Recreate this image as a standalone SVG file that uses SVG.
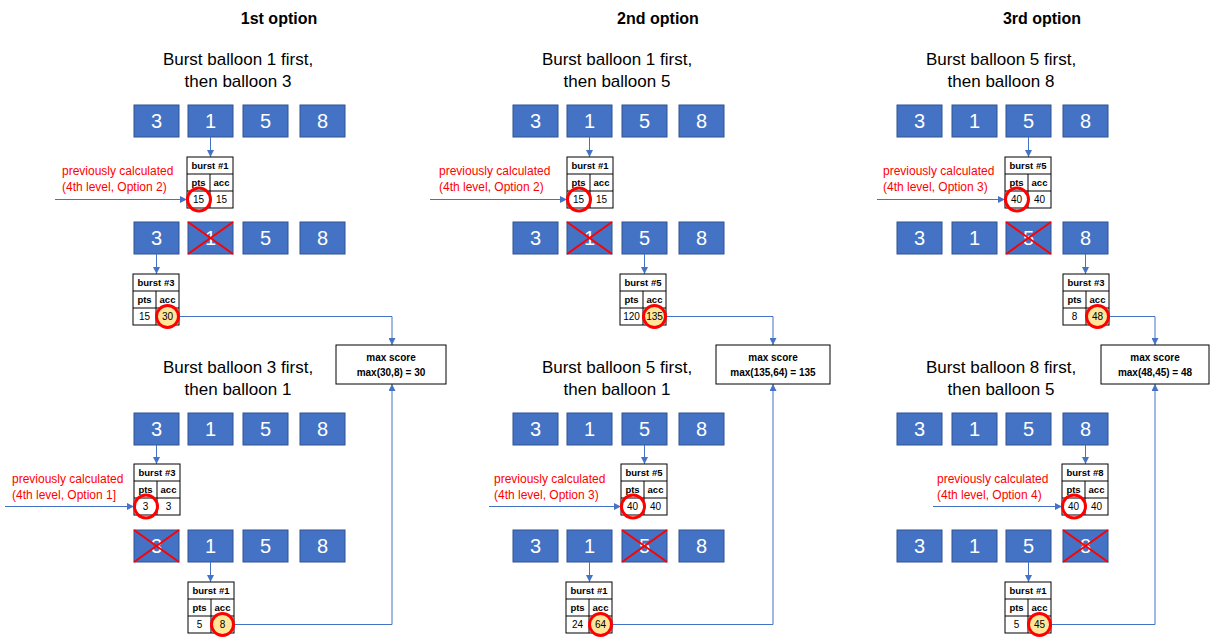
<svg xmlns="http://www.w3.org/2000/svg" width="1214" height="640" viewBox="0 0 1214 640">
<defs>
<marker id="arr" viewBox="0 0 10 10" refX="10" refY="5" markerWidth="7" markerHeight="7" markerUnits="userSpaceOnUse" orient="auto">
<path d="M0,0 L10,5 L0,10 z" fill="#4472C4"/>
</marker>
<style>
.title{font-family:"Liberation Sans",Arial,sans-serif;font-size:16px;font-weight:bold;fill:#000;text-anchor:middle}
.sub{font-family:"Liberation Sans",Arial,sans-serif;font-size:17px;fill:#000;text-anchor:middle}
.bal rect{fill:#4472C4;stroke:#2F528F;stroke-width:1}
.bal text{font-family:"Liberation Sans",Arial,sans-serif;font-size:20px;fill:#fff;text-anchor:middle}
.x{stroke:#FF0000;stroke-width:2}
.tb rect{fill:#fff;stroke:#000;stroke-width:1}
.tb line{stroke:#000;stroke-width:1}
.th{font-family:"Liberation Sans",Arial,sans-serif;font-size:9.5px;font-weight:bold;fill:#000;text-anchor:middle}
.tv{font-family:"Liberation Sans",Arial,sans-serif;font-size:10px;fill:#000;text-anchor:middle}
.rc{fill:none;stroke:#FF0000;stroke-width:3}
.yc{fill:#FFE699;stroke:#FF0000;stroke-width:3}
.red{font-family:"Liberation Sans",Arial,sans-serif;font-size:12px;fill:#FF0000}
.conn{fill:none;stroke:#4472C4;stroke-width:1}
.mx rect{fill:#fff;stroke:#000;stroke-width:1}
.mx text{font-family:"Liberation Sans",Arial,sans-serif;font-size:10px;font-weight:bold;fill:#000;text-anchor:middle}
</style>
</defs>
<rect width="1214" height="640" fill="#fff"/>

<!-- titles -->
<g id="titles">
<text class="title" x="279" y="24">1st option</text>
<text class="title" x="658" y="24">2nd option</text>
<text class="title" x="1042" y="24">3rd option</text>
<text class="sub" x="238" y="65">Burst balloon 1 first,</text>
<text class="sub" x="238" y="87">then balloon 3</text>
<text class="sub" x="238" y="373">Burst balloon 3 first,</text>
<text class="sub" x="238" y="395">then balloon 1</text>
<text class="sub" x="617" y="65">Burst balloon 1 first,</text>
<text class="sub" x="617" y="87">then balloon 5</text>
<text class="sub" x="617" y="373">Burst balloon 5 first,</text>
<text class="sub" x="617" y="395">then balloon 1</text>
<text class="sub" x="1001" y="65">Burst balloon 5 first,</text>
<text class="sub" x="1001" y="87">then balloon 8</text>
<text class="sub" x="1001" y="373">Burst balloon 8 first,</text>
<text class="sub" x="1001" y="395">then balloon 5</text>
</g>

<!-- balloon rows -->
<g id="col1-balloons" class="bal">
<rect x="134" y="105" width="45" height="32"/><text x="156.5" y="128">3</text>
<rect x="188" y="105" width="45" height="32"/><text x="210.5" y="128">1</text>
<rect x="243" y="105" width="45" height="32"/><text x="265.5" y="128">5</text>
<rect x="300" y="105" width="45" height="32"/><text x="322.5" y="128">8</text>
<rect x="134" y="222" width="45" height="32"/><text x="156.5" y="245">3</text>
<rect x="188" y="222" width="45" height="32"/><text x="210.5" y="245">1</text>
<rect x="243" y="222" width="45" height="32"/><text x="265.5" y="245">5</text>
<rect x="300" y="222" width="45" height="32"/><text x="322.5" y="245">8</text>
<rect x="134" y="413" width="45" height="32"/><text x="156.5" y="436">3</text>
<rect x="188" y="413" width="45" height="32"/><text x="210.5" y="436">1</text>
<rect x="243" y="413" width="45" height="32"/><text x="265.5" y="436">5</text>
<rect x="300" y="413" width="45" height="32"/><text x="322.5" y="436">8</text>
<rect x="134" y="530" width="45" height="32"/><text x="156.5" y="553">3</text>
<rect x="188" y="530" width="45" height="32"/><text x="210.5" y="553">1</text>
<rect x="243" y="530" width="45" height="32"/><text x="265.5" y="553">5</text>
<rect x="300" y="530" width="45" height="32"/><text x="322.5" y="553">8</text>
</g>
<g id="col2-balloons" class="bal">
<rect x="513" y="105" width="45" height="32"/><text x="535.5" y="128">3</text>
<rect x="567" y="105" width="45" height="32"/><text x="589.5" y="128">1</text>
<rect x="622" y="105" width="45" height="32"/><text x="644.5" y="128">5</text>
<rect x="679" y="105" width="45" height="32"/><text x="701.5" y="128">8</text>
<rect x="513" y="222" width="45" height="32"/><text x="535.5" y="245">3</text>
<rect x="567" y="222" width="45" height="32"/><text x="589.5" y="245">1</text>
<rect x="622" y="222" width="45" height="32"/><text x="644.5" y="245">5</text>
<rect x="679" y="222" width="45" height="32"/><text x="701.5" y="245">8</text>
<rect x="513" y="413" width="45" height="32"/><text x="535.5" y="436">3</text>
<rect x="567" y="413" width="45" height="32"/><text x="589.5" y="436">1</text>
<rect x="622" y="413" width="45" height="32"/><text x="644.5" y="436">5</text>
<rect x="679" y="413" width="45" height="32"/><text x="701.5" y="436">8</text>
<rect x="513" y="530" width="45" height="32"/><text x="535.5" y="553">3</text>
<rect x="567" y="530" width="45" height="32"/><text x="589.5" y="553">1</text>
<rect x="622" y="530" width="45" height="32"/><text x="644.5" y="553">5</text>
<rect x="679" y="530" width="45" height="32"/><text x="701.5" y="553">8</text>
</g>
<g id="col3-balloons" class="bal">
<rect x="897" y="105" width="45" height="32"/><text x="919.5" y="128">3</text>
<rect x="952" y="105" width="45" height="32"/><text x="974.5" y="128">1</text>
<rect x="1006" y="105" width="45" height="32"/><text x="1028.5" y="128">5</text>
<rect x="1063" y="105" width="45" height="32"/><text x="1085.5" y="128">8</text>
<rect x="897" y="222" width="45" height="32"/><text x="919.5" y="245">3</text>
<rect x="952" y="222" width="45" height="32"/><text x="974.5" y="245">1</text>
<rect x="1006" y="222" width="45" height="32"/><text x="1028.5" y="245">5</text>
<rect x="1063" y="222" width="45" height="32"/><text x="1085.5" y="245">8</text>
<rect x="897" y="413" width="45" height="32"/><text x="919.5" y="436">3</text>
<rect x="952" y="413" width="45" height="32"/><text x="974.5" y="436">1</text>
<rect x="1006" y="413" width="45" height="32"/><text x="1028.5" y="436">5</text>
<rect x="1063" y="413" width="45" height="32"/><text x="1085.5" y="436">8</text>
<rect x="897" y="530" width="45" height="32"/><text x="919.5" y="553">3</text>
<rect x="952" y="530" width="45" height="32"/><text x="974.5" y="553">1</text>
<rect x="1006" y="530" width="45" height="32"/><text x="1028.5" y="553">5</text>
<rect x="1063" y="530" width="45" height="32"/><text x="1085.5" y="553">8</text>
</g>

<!-- crosses on burst balloons -->
<g id="crosses" class="x">
<line x1="188" y1="222" x2="233" y2="254"/><line x1="188" y1="254" x2="233" y2="222"/>
<line x1="134" y1="530" x2="179" y2="562"/><line x1="134" y1="562" x2="179" y2="530"/>
<line x1="567" y1="222" x2="612" y2="254"/><line x1="567" y1="254" x2="612" y2="222"/>
<line x1="622" y1="530" x2="667" y2="562"/><line x1="622" y1="562" x2="667" y2="530"/>
<line x1="1006" y1="222" x2="1051" y2="254"/><line x1="1006" y1="254" x2="1051" y2="222"/>
<line x1="1063" y1="530" x2="1108" y2="562"/><line x1="1063" y1="562" x2="1108" y2="530"/>
</g>

<!-- connectors -->
<g id="connectors" class="conn" marker-end="url(#arr)">
<line x1="210.5" y1="137" x2="210.5" y2="157"/>
<line x1="156.5" y1="254" x2="156.5" y2="274"/>
<line x1="156.5" y1="445" x2="156.5" y2="464"/>
<line x1="210.5" y1="562" x2="210.5" y2="582"/>
<line x1="589.5" y1="137" x2="589.5" y2="157"/>
<line x1="644.5" y1="254" x2="644.5" y2="274"/>
<line x1="644.5" y1="445" x2="644.5" y2="464"/>
<line x1="589.5" y1="562" x2="589.5" y2="582"/>
<line x1="1028.5" y1="137" x2="1028.5" y2="157"/>
<line x1="1085.5" y1="254" x2="1085.5" y2="274"/>
<line x1="1085.5" y1="445" x2="1085.5" y2="464"/>
<line x1="1028.5" y1="562" x2="1028.5" y2="582"/>
<line x1="55" y1="199.5" x2="187" y2="199.5"/>
<line x1="5" y1="506.5" x2="134" y2="506.5"/>
<line x1="430" y1="199.5" x2="567" y2="199.5"/>
<line x1="489" y1="506.5" x2="621" y2="506.5"/>
<line x1="877" y1="199.5" x2="1005" y2="199.5"/>
<line x1="933" y1="506.5" x2="1062" y2="506.5"/>
<path d="M179,316.5 H392 V345"/>
<path d="M234,624.5 H392 V384"/>
<path d="M666,316.5 H773 V345"/>
<path d="M612,624.5 H773 V384"/>
<path d="M1109,316.5 H1155 V345"/>
<path d="M1051,624.5 H1155 V384"/>
</g>

<!-- red notes -->
<g id="notes">
<text class="red" x="62" y="175">previously calculated</text>
<text class="red" x="62" y="191">(4th level, Option 2)</text>
<text class="red" x="12" y="483">previously calculated</text>
<text class="red" x="12" y="499">(4th level, Option 1]</text>
<text class="red" x="439" y="175">previously calculated</text>
<text class="red" x="439" y="191">(4th level, Option 2)</text>
<text class="red" x="494" y="483">previously calculated</text>
<text class="red" x="494" y="499">(4th level, Option 3)</text>
<text class="red" x="883" y="175">previously calculated</text>
<text class="red" x="883" y="191">(4th level, Option 3)</text>
<text class="red" x="937" y="483">previously calculated</text>
<text class="red" x="937" y="499">(4th level, Option 4)</text>
</g>

<!-- tables -->
<g id="c1-t1" class="tb" transform="translate(187,157)">
<rect width="46" height="51"/><line x1="0" y1="17" x2="46" y2="17"/><line x1="0" y1="34" x2="46" y2="34"/><line x1="23" y1="17" x2="23" y2="51"/>
<text class="th" x="23" y="12">burst #1</text><text class="th" x="11.5" y="29">pts</text><text class="th" x="34.5" y="29">acc</text>
<text class="tv" x="11.5" y="46">15</text><text class="tv" x="34.5" y="46">15</text>
<circle class="rc" cx="12" cy="42.5" r="11.5"/>
</g>
<g id="c1-t2" class="tb" transform="translate(133,274)">
<rect width="46" height="51"/><line x1="0" y1="17" x2="46" y2="17"/><line x1="0" y1="34" x2="46" y2="34"/><line x1="23" y1="17" x2="23" y2="51"/>
<text class="th" x="23" y="12">burst #3</text><text class="th" x="11.5" y="29">pts</text><text class="th" x="34.5" y="29">acc</text>
<circle class="yc" cx="34.5" cy="42.5" r="11"/>
<text class="tv" x="11.5" y="46">15</text><text class="tv" x="34.5" y="46">30</text>
</g>
<g id="c1-t3" class="tb" transform="translate(134,464)">
<rect width="46" height="51"/><line x1="0" y1="17" x2="46" y2="17"/><line x1="0" y1="34" x2="46" y2="34"/><line x1="23" y1="17" x2="23" y2="51"/>
<text class="th" x="23" y="12">burst #3</text><text class="th" x="11.5" y="29">pts</text><text class="th" x="34.5" y="29">acc</text>
<text class="tv" x="11.5" y="46">3</text><text class="tv" x="34.5" y="46">3</text>
<circle class="rc" cx="12" cy="42.5" r="11.5"/>
</g>
<g id="c1-t4" class="tb" transform="translate(188,582)">
<rect width="46" height="51"/><line x1="0" y1="17" x2="46" y2="17"/><line x1="0" y1="34" x2="46" y2="34"/><line x1="23" y1="17" x2="23" y2="51"/>
<text class="th" x="23" y="12">burst #1</text><text class="th" x="11.5" y="29">pts</text><text class="th" x="34.5" y="29">acc</text>
<circle class="yc" cx="34.5" cy="42.5" r="11"/>
<text class="tv" x="11.5" y="46">5</text><text class="tv" x="34.5" y="46">8</text>
</g>

<g id="c2-t1" class="tb" transform="translate(567,157)">
<rect width="46" height="51"/><line x1="0" y1="17" x2="46" y2="17"/><line x1="0" y1="34" x2="46" y2="34"/><line x1="23" y1="17" x2="23" y2="51"/>
<text class="th" x="23" y="12">burst #1</text><text class="th" x="11.5" y="29">pts</text><text class="th" x="34.5" y="29">acc</text>
<text class="tv" x="11.5" y="46">15</text><text class="tv" x="34.5" y="46">15</text>
<circle class="rc" cx="12" cy="42.5" r="11.5"/>
</g>
<g id="c2-t2" class="tb" transform="translate(620,274)">
<rect width="46" height="51"/><line x1="0" y1="17" x2="46" y2="17"/><line x1="0" y1="34" x2="46" y2="34"/><line x1="23" y1="17" x2="23" y2="51"/>
<text class="th" x="23" y="12">burst #5</text><text class="th" x="11.5" y="29">pts</text><text class="th" x="34.5" y="29">acc</text>
<circle class="yc" cx="34.5" cy="42.5" r="11"/>
<text class="tv" x="11.5" y="46">120</text><text class="tv" x="34.5" y="46">135</text>
</g>
<g id="c2-t3" class="tb" transform="translate(621,464)">
<rect width="46" height="51"/><line x1="0" y1="17" x2="46" y2="17"/><line x1="0" y1="34" x2="46" y2="34"/><line x1="23" y1="17" x2="23" y2="51"/>
<text class="th" x="23" y="12">burst #5</text><text class="th" x="11.5" y="29">pts</text><text class="th" x="34.5" y="29">acc</text>
<text class="tv" x="11.5" y="46">40</text><text class="tv" x="34.5" y="46">40</text>
<circle class="rc" cx="12" cy="42.5" r="11.5"/>
</g>
<g id="c2-t4" class="tb" transform="translate(566,582)">
<rect width="46" height="51"/><line x1="0" y1="17" x2="46" y2="17"/><line x1="0" y1="34" x2="46" y2="34"/><line x1="23" y1="17" x2="23" y2="51"/>
<text class="th" x="23" y="12">burst #1</text><text class="th" x="11.5" y="29">pts</text><text class="th" x="34.5" y="29">acc</text>
<circle class="yc" cx="34.5" cy="42.5" r="11"/>
<text class="tv" x="11.5" y="46">24</text><text class="tv" x="34.5" y="46">64</text>
</g>

<g id="c3-t1" class="tb" transform="translate(1005,157)">
<rect width="46" height="51"/><line x1="0" y1="17" x2="46" y2="17"/><line x1="0" y1="34" x2="46" y2="34"/><line x1="23" y1="17" x2="23" y2="51"/>
<text class="th" x="23" y="12">burst #5</text><text class="th" x="11.5" y="29">pts</text><text class="th" x="34.5" y="29">acc</text>
<text class="tv" x="11.5" y="46">40</text><text class="tv" x="34.5" y="46">40</text>
<circle class="rc" cx="12" cy="42.5" r="11.5"/>
</g>
<g id="c3-t2" class="tb" transform="translate(1063,274)">
<rect width="46" height="51"/><line x1="0" y1="17" x2="46" y2="17"/><line x1="0" y1="34" x2="46" y2="34"/><line x1="23" y1="17" x2="23" y2="51"/>
<text class="th" x="23" y="12">burst #3</text><text class="th" x="11.5" y="29">pts</text><text class="th" x="34.5" y="29">acc</text>
<circle class="yc" cx="34.5" cy="42.5" r="11"/>
<text class="tv" x="11.5" y="46">8</text><text class="tv" x="34.5" y="46">48</text>
</g>
<g id="c3-t3" class="tb" transform="translate(1062,464)">
<rect width="46" height="51"/><line x1="0" y1="17" x2="46" y2="17"/><line x1="0" y1="34" x2="46" y2="34"/><line x1="23" y1="17" x2="23" y2="51"/>
<text class="th" x="23" y="12">burst #8</text><text class="th" x="11.5" y="29">pts</text><text class="th" x="34.5" y="29">acc</text>
<text class="tv" x="11.5" y="46">40</text><text class="tv" x="34.5" y="46">40</text>
<circle class="rc" cx="12" cy="42.5" r="11.5"/>
</g>
<g id="c3-t4" class="tb" transform="translate(1005,582)">
<rect width="46" height="51"/><line x1="0" y1="17" x2="46" y2="17"/><line x1="0" y1="34" x2="46" y2="34"/><line x1="23" y1="17" x2="23" y2="51"/>
<text class="th" x="23" y="12">burst #1</text><text class="th" x="11.5" y="29">pts</text><text class="th" x="34.5" y="29">acc</text>
<circle class="yc" cx="34.5" cy="42.5" r="11"/>
<text class="tv" x="11.5" y="46">5</text><text class="tv" x="34.5" y="46">45</text>
</g>

<!-- max score boxes -->
<g id="c1-max" class="mx">
<rect x="336" y="345" width="110" height="39"/>
<text x="391" y="361">max score</text><text x="391" y="376">max(30,8) = 30</text>
</g>
<g id="c2-max" class="mx">
<rect x="716" y="345" width="114" height="39"/>
<text x="773" y="361">max score</text><text x="773" y="376">max(135,64) = 135</text>
</g>
<g id="c3-max" class="mx">
<rect x="1101" y="345" width="108" height="39"/>
<text x="1155" y="361">max score</text><text x="1155" y="376">max(48,45) = 48</text>
</g>
</svg>
